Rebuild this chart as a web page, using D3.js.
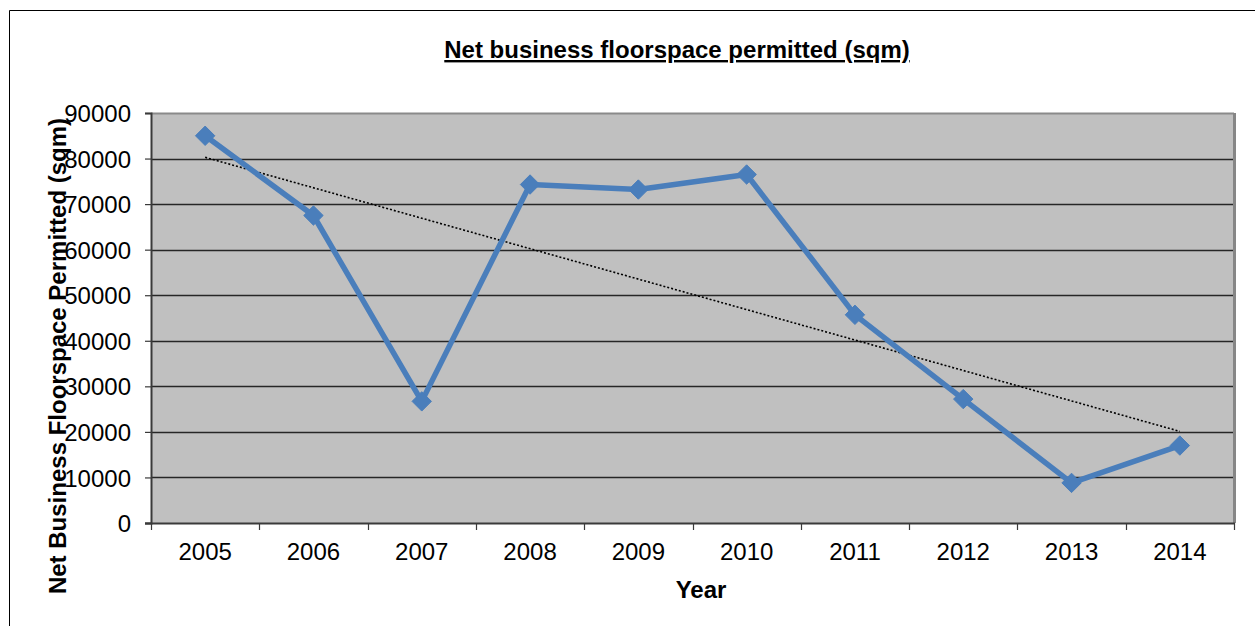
<!DOCTYPE html>
<html>
<head>
<meta charset="utf-8">
<script src="https://cdn.jsdelivr.net/npm/d3@7/dist/d3.min.js"></script>
<style>
  html, body { margin: 0; padding: 0; background: #fff; }
  svg { display: block; }
  text { font-family: "Liberation Sans", Arial, sans-serif; fill: #000; }
</style>
</head>
<body>
<svg id="chart" width="1255" height="626"></svg>
<script>
// Net business floorspace permitted per year (sqm)
const years = ["2005", "2006", "2007", "2008", "2009", "2010", "2011", "2012", "2013", "2014"];
const floorspace = [85000, 67500, 26700, 74300, 73200, 76500, 45700, 27200, 8800, 17000];
const yTicks = [0, 10000, 20000, 30000, 40000, 50000, 60000, 70000, 80000, 90000];

const chartTitle = "Net business floorspace permitted (sqm)";
const xTitle = "Year";
const yTitle = "Net Business Floorspace Permitted (sqm)";

const svg = d3.select("#chart");
const W = 1255, H = 626;
const plot = { left: 151, top: 113, right: 1234, bottom: 523 };
const fs = 24;

// chart frame
svg.append("path")
  .attr("d", `M9.5,${H} V10.5 H${W}`)
  .attr("fill", "none").attr("stroke", "#000").attr("stroke-width", 1);

const x = d3.scaleBand().domain(years).range([plot.left, plot.right]).padding(0);
const y = d3.scaleLinear().domain([0, 90000]).range([plot.bottom, plot.top]);

// plot background
svg.append("rect")
  .attr("x", plot.left).attr("y", plot.top)
  .attr("width", plot.right - plot.left).attr("height", plot.bottom - plot.top)
  .attr("fill", "#c0c0c0");

// gridlines
svg.append("g").selectAll("line")
  .data(yTicks.filter(t => t > 0 && t < 90000))
  .join("line")
  .attr("x1", plot.left).attr("x2", plot.right)
  .attr("y1", d => Math.round(y(d)) + 0.5).attr("y2", d => Math.round(y(d)) + 0.5)
  .attr("stroke", "#262626").attr("stroke-width", 1.5);

// plot border (top and right)
svg.append("line")
  .attr("x1", plot.left).attr("x2", plot.right)
  .attr("y1", plot.top + 0.5).attr("y2", plot.top + 0.5)
  .attr("stroke", "#8a8a8a").attr("stroke-width", 2);
svg.append("line")
  .attr("x1", plot.right + 0.5).attr("x2", plot.right + 0.5)
  .attr("y1", plot.top).attr("y2", plot.bottom)
  .attr("stroke", "#868686").attr("stroke-width", 3);

// y axis
const yAxis = d3.axisLeft(y).tickValues(yTicks).tickSize(6).tickPadding(14)
  .tickFormat(d3.format("d"));
const gy = svg.append("g").attr("transform", `translate(${plot.left},0)`).call(yAxis);
gy.select(".domain").attr("stroke", "#3a3a3a").attr("stroke-width", 2);
gy.selectAll(".tick line").attr("stroke", "#3a3a3a").attr("stroke-width", 1.2);
gy.selectAll(".tick text")
  .attr("font-size", fs).attr("font-family", "Liberation Sans, Arial, sans-serif")
  .attr("fill", "#000").attr("dy", "0.36em");

// x axis: ticks at category boundaries
const gx = svg.append("g").attr("transform", `translate(0,${plot.bottom})`);
gx.append("line")
  .attr("x1", plot.left - 6).attr("x2", plot.right + 1)
  .attr("y1", 0.5).attr("y2", 0.5)
  .attr("stroke", "#3a3a3a").attr("stroke-width", 2);
const bounds = years.map(d => x(d)).concat([plot.right]);
gx.selectAll("line.tick").data(bounds).join("line")
  .attr("class", "tick")
  .attr("x1", d => Math.round(d) + 0.5).attr("x2", d => Math.round(d) + 0.5)
  .attr("y1", 0).attr("y2", 7)
  .attr("stroke", "#3a3a3a").attr("stroke-width", 1.2);
gx.selectAll("text").data(years).join("text")
  .attr("x", d => x(d) + x.bandwidth() / 2)
  .attr("y", 37)
  .attr("text-anchor", "middle")
  .attr("font-size", fs)
  .text(d => d);

// linear trendline (least squares over the series)
const n = floorspace.length;
const xs = d3.range(1, n + 1);
const mx = d3.mean(xs), my = d3.mean(floorspace);
const slope = d3.sum(xs.map((v, i) => (v - mx) * (floorspace[i] - my))) /
              d3.sum(xs.map(v => (v - mx) ** 2));
const icpt = my - slope * mx;
const cx = d => x(d) + x.bandwidth() / 2;
svg.append("line")
  .attr("x1", cx(years[0])).attr("y1", y(icpt + slope * 1))
  .attr("x2", cx(years[n - 1])).attr("y2", y(icpt + slope * n))
  .attr("stroke", "#000").attr("stroke-width", 1.6)
  .attr("stroke-dasharray", "2,2");

// series line
const blue = "#4a7ebb";
const line = d3.line().x((d, i) => cx(years[i])).y(d => y(d));
svg.append("path")
  .datum(floorspace)
  .attr("d", line)
  .attr("fill", "none").attr("stroke", blue)
  .attr("stroke-width", 5.5).attr("stroke-linejoin", "round");

// diamond markers
const sym = d3.symbol().type(d3.symbolDiamond2).size(240);
svg.append("g").selectAll("path").data(floorspace).join("path")
  .attr("transform", (d, i) => `translate(${cx(years[i])},${y(d)})`)
  .attr("d", sym)
  .attr("fill", blue).attr("stroke", blue).attr("stroke-width", 1);

// titles
svg.append("text")
  .attr("x", 677).attr("y", 58)
  .attr("text-anchor", "middle")
  .attr("font-size", fs).attr("font-weight", "bold")
  .attr("text-decoration", "underline")
  .text(chartTitle);

svg.append("text")
  .attr("x", 701).attr("y", 598)
  .attr("text-anchor", "middle")
  .attr("font-size", fs).attr("font-weight", "bold")
  .text(xTitle);

svg.append("text")
  .attr("transform", "translate(66,356) rotate(-90)")
  .attr("text-anchor", "middle")
  .attr("font-size", fs).attr("font-weight", "bold")
  .text(yTitle);
</script>
</body>
</html>
